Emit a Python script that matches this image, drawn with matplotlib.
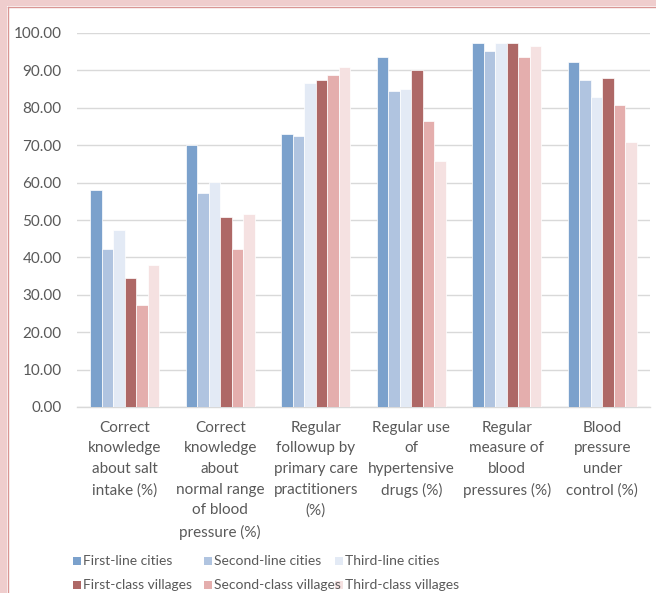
import matplotlib
matplotlib.use("Agg")
import matplotlib.pyplot as plt
import matplotlib.patches as patches
import numpy as np

plt.rcParams['font.family'] = ['Lato', 'DejaVu Sans']

# Categories (wrapped as in the original)
categories = [
    "Correct\nknowledge\nabout salt\nintake (%)",
    "Correct\nknowledge\nabout\nnormal range\nof blood\npressure (%)",
    "Regular\nfollowup by\nprimary care\npractitioners\n(%)",
    "Regular use\nof\nhypertensive\ndrugs (%)",
    "Regular\nmeasure of\nblood\npressures (%)",
    "Blood\npressure\nunder\ncontrol (%)",
]

series_names = ["First-line cities", "Second-line cities", "Third-line cities",
                "First-class villages", "Second-class villages", "Third-class villages"]

first_line = [58.0, 70.1, 73.0, 93.7, 97.2, 92.2]
second_line = [42.3, 57.3, 72.4, 84.4, 95.1, 87.3]
third_line = [47.3, 60.2, 86.6, 85.1, 97.2, 83.0]
first_class = [34.5, 50.9, 87.3, 90.1, 97.2, 88.0]
second_class = [27.4, 42.3, 88.7, 76.6, 93.7, 80.8]
third_class = [38.0, 51.6, 90.8, 65.9, 96.5, 70.9]

series_values = [first_line, second_line, third_line,
                 first_class, second_class, third_class]
colors = ['#7BA1CC', '#B0C4E0', '#E3EAF5', '#AE6866', '#E4AEAD', '#F5E1E1']

yticks = np.arange(0, 101, 10)

fig = plt.figure(figsize=(6.56, 5.93), dpi=100)
ax = fig.add_axes([77 / 656, 1 - 407 / 593, 573 / 656, 374 / 593])

# Pink frame on the left and top
fig.patches.append(patches.Rectangle((0, 0), 7 / 656, 1, transform=fig.transFigure,
                                     facecolor='#EFCDCD', edgecolor='none', zorder=0))
fig.patches.append(patches.Rectangle((0, 1 - 6 / 593), 1, 6 / 593, transform=fig.transFigure,
                                     facecolor='#EFCDCD', edgecolor='none', zorder=0))
fig.add_artist(plt.Line2D([7.5 / 656, 7.5 / 656], [0, 1 - 6.5 / 593], transform=fig.transFigure,
                          color='#D99694', lw=1.0))
fig.add_artist(plt.Line2D([7.5 / 656, 1], [1 - 6.5 / 593, 1 - 6.5 / 593], transform=fig.transFigure,
                          color='#D99694', lw=1.0))
# cut-off title above the frame
fig.text(0.0, 1 + 4 / 593, "g group", fontsize=17, color='black', va='baseline', ha='left')

x = np.arange(len(categories))
bw = 0.121
for i, (vals, col) in enumerate(zip(series_values, colors)):
    ax.bar(x + (i - 2.5) * bw, vals, width=bw, color=col, edgecolor='white',
           linewidth=0.5, label=series_names[i], zorder=3)

ax.set_xlim(-0.5, len(categories) - 0.5)
ax.set_ylim(0, 100)
ax.set_yticks(yticks)
ax.set_yticklabels([f"{v:.2f}" for v in yticks])
ax.set_xticks(x)
ax.set_xticklabels(categories, linespacing=1.6, va='top')
ax.tick_params(axis='both', length=0, labelsize=11, colors='#595959')
ax.tick_params(axis='y', pad=11)
ax.tick_params(axis='x', pad=10)
ax.grid(axis='y', color='#D9D9D9', lw=1.0, zorder=0)
for s in ['top', 'right', 'left']:
    ax.spines[s].set_visible(False)
ax.spines['bottom'].set_color('#D9D9D9')
ax.spines['bottom'].set_linewidth(1.0)

# Legend laid out like the original (equal-width columns, two rows)
col_x = [73, 204, 335]
row_y = [561, 585]
for i, (name, col) in enumerate(zip(series_names, colors)):
    r, c = divmod(i, 3)
    px, py = col_x[c], row_y[r]
    fig.patches.append(patches.Rectangle((px / 656, 1 - (py + 4) / 593), 8 / 656, 8 / 593,
                                         transform=fig.transFigure, facecolor=col,
                                         edgecolor='none'))
    fig.text((px + 10) / 656, 1 - py / 593, name, fontsize=10, color='#595959',
             va='center', ha='left')

fig.savefig("out.png", dpi=100)
